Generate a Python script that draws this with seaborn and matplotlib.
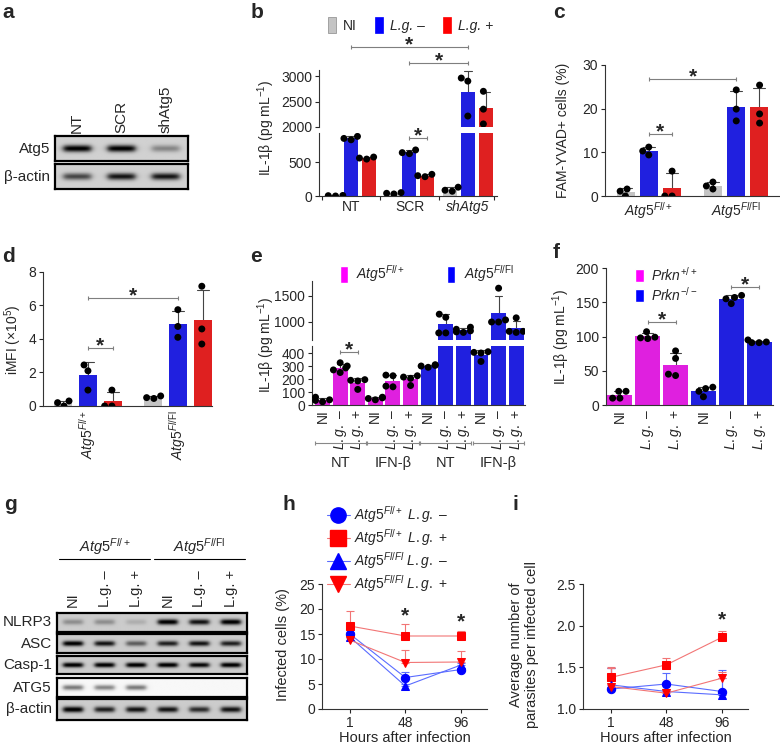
import numpy as np
import pandas as pd
import matplotlib
matplotlib.use("Agg")
import matplotlib.pyplot as plt
import matplotlib.transforms as mtransforms
from matplotlib.patches import Patch
from matplotlib.lines import Line2D
import seaborn as sns

W, H = 780, 749

# ---------------- data ----------------
# a: western blot band intensities (0 = no band)
a_lanes = ["NT", "SCR", "shAtg5"]
a_rows = ["Atg5", "β-actin"]
a_bands = [[0.85, 0.85, 0.30], [0.55, 0.75, 0.75]]

# b: IL-1b (pg/mL), replicates per group
b_groups = ["NT", "SCR", "shAtg5"]
b_conds = ["NI", "L.g. –", "L.g. +"]
b_ni = [[5, 0, 8], [50, 30, 40], [130, 85, 70]]
b_lgm = [[880, 850, 830], [680, 640, 625], [2960, 2900, 2215]]
b_lgp = [[575, 560, 545], [320, 300, 285], [2700, 2350, 2060]]

# c: FAM-YVAD+ cells (%)
c_groups = ["Fl/+", "Fl/Fl"]
c_ni = [[1.6, 0.0, 1.1], [3.2, 1.6, 2.3]]
c_lgm = [[11.2, 9.4, 10.3], [24.3, 19.9, 17.2]]
c_lgp = [[5.7, 0.0, 0.0], [25.4, 18.8, 16.7]]

# d: iMFI (x10^5)
d_ni = [[0.3, 0.0, 0.2], [0.6, 0.45, 0.5]]
d_lgm = [[2.45, 2.1, 0.95], [5.75, 4.75, 4.1]]
d_lgp = [[0.95, 0.0, 0.0], [7.15, 4.6, 3.7]]

# e: IL-1b by genotype / treatment / condition
e_genos = ["Fl/+", "Fl/Fl"]
e_treats = ["NT", "IFN-β"]
e_flp = [[[25, 35, 40, 60], [325, 300, 285, 270, 250], [190, 195, 185, 120]],
         [[40, 50, 55, 60], [230, 225, 140, 145], [225, 215, 150, 205]]]
e_flfl = [[[310, 305, 300, 290], [1150, 1090, 790, 790], [900, 860, 830, 810, 800]],
          [[410, 405, 400, 335], [1650, 1040, 1000, 1000], [1080, 820, 800, 820]]]

# f: IL-1b Prkn
f_genos = ["+/+", "-/-"]
f_wt = [[20, 20, 10, 10], [107, 99, 98, 97], [79, 68, 45, 43]]
f_ko = [[26, 24, 20, 12], [160, 157, 155, 148], [95, 92, 91, 91]]

# g: western blot
g_lanes = ["NI", "L.g. –", "L.g. +", "NI", "L.g. –", "L.g. +"]
g_rows = ["NLRP3", "ASC", "Casp-1", "ATG5", "β-actin"]
g_bands = [[0.25, 0.25, 0.12, 0.85, 0.75, 0.85],
           [0.85, 0.75, 0.45, 0.7, 0.75, 0.7],
           [0.85, 0.85, 0.85, 0.85, 0.8, 0.85],
           [0.5, 0.45, 0.5, 0.0, 0.0, 0.0],
           [0.85, 0.7, 0.75, 0.75, 0.65, 0.75]]

# h / i: time courses (mean, upper error)
hours = ["1", "48", "96"]
h_flp_m = [15.0, 6.3, 7.9]; h_flp_m_err = [0.5, 1.1, 0.4]
h_flp_p = [16.6, 14.6, 14.6]; h_flp_p_err = [3.1, 2.5, 1.1]
h_flfl_m = [14.4, 4.6, 8.8]; h_flfl_m_err = [0.5, 0.5, 0.5]
h_flfl_p = [13.8, 9.3, 9.4]; h_flfl_p_err = [0.5, 2.5, 2.2]
i_flp_m = [1.24, 1.30, 1.21]; i_flp_m_err = [0.25, 0.13, 0.26]
i_flp_p = [1.38, 1.53, 1.86]; i_flp_p_err = [0.12, 0.08, 0.08]
i_flfl_m = [1.29, 1.21, 1.17]; i_flfl_m_err = [0.2, 0.03, 0.2]
i_flfl_p = [1.27, 1.19, 1.37]; i_flfl_p_err = [0.22, 0.03, 0.08]

GRAY, BLUE, RED, MAG = "#c4c4c4", "#0000ff", "#ff0000", "#ff00ff"

sns.set_style("ticks")
plt.rcParams["font.family"] = ["Liberation Sans", "DejaVu Sans"]
plt.rcParams["mathtext.fontset"] = "custom"
plt.rcParams["mathtext.rm"] = "Liberation Sans"
plt.rcParams["mathtext.it"] = "Liberation Sans:italic"
plt.rcParams["mathtext.bf"] = "Liberation Sans:bold"
plt.rcParams["axes.linewidth"] = 0.8
plt.rcParams["axes.edgecolor"] = "#333333"
plt.rcParams["font.size"] = 10

fig = plt.figure(figsize=(W / 100, H / 100), dpi=100)

ATG = {"Fl/+": r"$\mathit{Atg5}^{\mathit{Fl/+}}$", "Fl/Fl": r"$\mathit{Atg5}^{\mathit{Fl/}\mathrm{Fl}}$"}
LG = {"NI": "NI", "L.g. –": r"$\mathit{L.g.}$ –", "L.g. +": r"$\mathit{L.g.}$ +"}


def add_ax(l, t, r, b):
    return fig.add_axes([l / W, 1 - b / H, (r - l) / W, (b - t) / H])


def fy(ypx):
    return 1 - ypx / H


def long_df(groups, conds, series):
    rows = []
    for cond, per_group in zip(conds, series):
        for g, reps in zip(groups, per_group):
            for v in reps:
                rows.append({"group": g, "cond": cond, "value": v})
    return pd.DataFrame(rows)


def bars(ax, df, x, hue, order, hue_order, palette, width, gap=0, dodge=True):
    sns.barplot(data=df, x=x, y="value", hue=hue, order=order, hue_order=hue_order,
                palette=palette, errorbar="sd", capsize=0.4, width=width, gap=gap,
                dodge=dodge, err_kws={"linewidth": 0.8, "color": "#444444"},
                linewidth=0, legend=False, ax=ax)
    for ln in ax.lines:
        ln.set_zorder(0.8)
    sns.swarmplot(data=df, x=x, y="value", hue=hue, order=order, hue_order=hue_order,
                  palette={h: "black" for h in hue_order}, dodge=dodge, size=5,
                  legend=False, ax=ax, zorder=3)
    ax.set_xlabel("")
    ax.set_ylabel("")


def style(ax, bottom=True):
    for s in ["top", "right"]:
        ax.spines[s].set_visible(False)
    ax.tick_params(axis="y", length=3, width=0.8, labelsize=10, pad=2)
    ax.tick_params(axis="x", length=0, labelsize=10, pad=3)
    if not bottom:
        ax.spines["bottom"].set_visible(False)
        ax.set_xticks([])


def star(ax, x, ypx):
    tr = mtransforms.blended_transform_factory(ax.transData, fig.transFigure)
    ax.text(x, fy(ypx), "*", transform=tr, ha="center", va="center",
            fontsize=15, fontweight="bold", clip_on=False)


def bracket(ax, x0, x1, ypx):
    tr = mtransforms.blended_transform_factory(ax.transData, fig.transFigure)
    ax.plot([x0, x1], [fy(ypx), fy(ypx)], transform=tr, color="#7f7f7f", lw=0.8,
            clip_on=False, marker="|", markersize=3, mew=0.8)
    star(ax, (x0 + x1) / 2, ypx - 2)


def blot(ax, bands, bg=0.82):
    n = len(bands)
    X, Y = np.meshgrid(np.linspace(0, n, 300), np.linspace(0, 1, 40))
    img = np.full(X.shape, bg)
    for k, v in enumerate(bands):
        c = k + 0.5
        px = 1 / (1 + np.exp(-(X - (c - 0.31)) / 0.04)) / (1 + np.exp((X - (c + 0.31)) / 0.04))
        py = np.exp(-((Y - 0.5) / 0.14) ** 2)
        img -= v * px * py
    ax.imshow(img, cmap="gray", vmin=0, vmax=1, extent=(0, n, 0, 1), aspect="auto",
              interpolation="bilinear")
    ax.set_xticks([])
    ax.set_yticks([])
    for s in ax.spines.values():
        s.set_visible(True)
        s.set_linewidth(1.6)
        s.set_color("black")


# ---------------- a ----------------
a_tops = [(136, 161), (164, 189)]
for k, (row, (t, b)) in enumerate(zip(a_rows, a_tops)):
    ax = add_ax(55, t, 188, b)
    blot(ax, a_bands[k])
    fig.text(50 / W, fy((t + b) / 2), row, ha="right", va="center", fontsize=11)
    if k == 0:
        for j, lab in enumerate(a_lanes):
            ax.text(j + 0.5, 1.12, lab, transform=mtransforms.blended_transform_factory(ax.transData, ax.transAxes),
                    rotation=90, ha="center", va="bottom", fontsize=11)

# ---------------- b ----------------
b_df = long_df(b_groups, b_conds, [b_ni, b_lgm, b_lgp])
b_pal = dict(zip(b_conds, [GRAY, BLUE, RED]))
b_lo = add_ax(319, 133, 497, 196)
b_hi = add_ax(319, 70, 497, 127)
for ax in (b_lo, b_hi):
    bars(ax, b_df, "group", "cond", b_groups, b_conds, b_pal, 0.92, 0.22)
    ax.set_xlim(-0.55, 2.5)
b_lo.set_ylim(0, 930)
b_hi.set_ylim(2000, 3118)
b_lo.set_yticks([0, 500])
b_hi.set_yticks([2000, 2500, 3000])
style(b_lo)
style(b_hi, bottom=False)
b_lo.set_xticks(range(3))
b_lo.set_xticklabels(b_groups)
b_lo.get_xticklabels()[2].set_fontstyle("italic")
b_lo.set_xticks([-0.5, 0.5, 1.5, 2.45], minor=True)
b_lo.tick_params(axis="x", which="minor", length=3, width=0.8)
bracket(b_lo, 0, 2, 47)
bracket(b_lo, 1, 2, 63)
bracket(b_lo, 0, 0.307, 123)
bracket(b_lo, 1, 1.307, 138)
fig.text(266 / W, fy(128), r"IL-1β (pg mL$^{-1}$)", rotation=90, ha="center", va="center", fontsize=10)
leg = fig.legend([Patch(facecolor=b_pal[c], edgecolor="#888888" if c == "NI" else b_pal[c], lw=0.5) for c in b_conds],
                 b_conds, ncol=3, loc="upper left", bbox_to_anchor=(315 / W, fy(4)), frameon=False,
                 handlelength=0.6, handleheight=1.5, columnspacing=1.3, handletextpad=0.5, fontsize=10)
for t in leg.get_texts()[1:]:
    t.set_fontstyle("italic")

# ---------------- c ----------------
c_df = long_df(c_groups, b_conds, [c_ni, c_lgm, c_lgp])
ax_c = add_ax(605, 65, 780, 196)
bars(ax_c, c_df, "group", "cond", c_groups, b_conds, b_pal, 0.79, 0.22)
ax_c.set_xlim(-0.5, 1.5)
ax_c.set_ylim(0, 30)
ax_c.set_yticks([0, 10, 20, 30])
style(ax_c)
ax_c.set_xticks(range(2))
ax_c.set_xticklabels([ATG[g] for g in c_groups])
bracket(ax_c, 0, 1, 79)
bracket(ax_c, 0, 0.263, 134)
fig.text(563 / W, fy(130), "FAM-YVAD+ cells (%)", rotation=90, ha="center", va="center", fontsize=10)

# ---------------- d ----------------
d_df = long_df(c_groups, b_conds, [d_ni, d_lgm, d_lgp])
ax_d = add_ax(43, 272, 212, 406)
bars(ax_d, d_df, "group", "cond", c_groups, b_conds, b_pal, 0.83, 0.28)
ax_d.set_xlim(-0.5, 1.38)
ax_d.set_ylim(0, 8)
ax_d.set_yticks([0, 2, 4, 6, 8])
style(ax_d)
ax_d.set_xticks(range(2))
ax_d.set_xticklabels([ATG[g] for g in c_groups], rotation=90, va="top", ha="center")
bracket(ax_d, 0, 1, 298)
bracket(ax_d, 0, 0.277, 348)
fig.text(13 / W, fy(340), r"iMFI (×10$^{5}$)", rotation=90, ha="center", va="center", fontsize=10)

# ---------------- e ----------------
e_rows, e_ids, e_labels = [], [], []
for geno, data in zip(e_genos, [e_flp, e_flfl]):
    for treat, per_treat in zip(e_treats, data):
        for cond, reps in zip(b_conds, per_treat):
            cid = f"{geno} {treat} {cond}"
            e_ids.append(cid)
            e_labels.append(LG[cond])
            for v in reps:
                e_rows.append({"cid": cid, "geno": geno, "value": v})
e_df = pd.DataFrame(e_rows)
e_pal = {"Fl/+": MAG, "Fl/Fl": BLUE}
e_lo = add_ax(312, 346, 525, 405)
e_hi = add_ax(312, 281, 525, 340)
for ax in (e_lo, e_hi):
    bars(ax, e_df, "cid", "geno", e_ids, e_genos, e_pal, 0.85, dodge=False)
    ax.set_xlim(-0.6, 11.5)
e_lo.set_ylim(0, 454)
e_hi.set_ylim(654, 1788)
e_lo.set_yticks([0, 100, 200, 300, 400])
e_hi.set_yticks([1000, 1500])
style(e_lo)
style(e_hi, bottom=False)
e_lo.set_xticks(range(len(e_ids)))
e_lo.set_xticklabels(e_labels, rotation=90, va="top", ha="center")
tr_e = mtransforms.blended_transform_factory(e_lo.transData, fig.transFigure)
for k, treat in enumerate(e_treats * 2):
    x0, x1 = 3 * k - 0.45, 3 * k + 2.45
    e_lo.plot([x0, x1], [fy(443)] * 2, transform=tr_e, color="#888888", lw=0.8, clip_on=False,
              marker="|", markersize=3, mew=0.8)
    e_lo.text(3 * k + 1, fy(463), treat, transform=tr_e, ha="center", va="center", fontsize=10.5)
bracket(e_lo, 1, 4, 337)
bracket(e_lo, 1, 2, 352)
fig.text(266 / W, fy(345), r"IL-1β (pg mL$^{-1}$)", rotation=90, ha="center", va="center", fontsize=10)
fig.legend([Patch(facecolor=e_pal[g]) for g in e_genos], [ATG[g] for g in e_genos], ncol=2,
           loc="upper left", bbox_to_anchor=(327 / W, fy(251)), frameon=False, handlelength=0.6,
           handleheight=1.5, columnspacing=3.0, handletextpad=0.6, fontsize=10)

# ---------------- f ----------------
f_rows, f_ids, f_labels = [], [], []
for geno, data in zip(f_genos, [f_wt, f_ko]):
    for cond, reps in zip(b_conds, data):
        cid = f"{geno} {cond}"
        f_ids.append(cid)
        f_labels.append(LG[cond])
        for v in reps:
            f_rows.append({"cid": cid, "geno": geno, "value": v})
f_df = pd.DataFrame(f_rows)
f_pal = {"+/+": MAG, "-/-": BLUE}
ax_f = add_ax(606, 268, 773, 405)
bars(ax_f, f_df, "cid", "geno", f_ids, f_genos, f_pal, 0.9, dodge=False)
ax_f.set_xlim(-0.5, 5.5)
ax_f.set_ylim(0, 200)
ax_f.set_yticks([0, 50, 100, 150, 200])
style(ax_f)
ax_f.set_xticks(range(len(f_ids)))
ax_f.set_xticklabels(f_labels, rotation=90, va="top", ha="center")
bracket(ax_f, 1, 2, 322)
bracket(ax_f, 4, 5, 287)
fig.text(561 / W, fy(337), r"IL-1β (pg mL$^{-1}$)", rotation=90, ha="center", va="center", fontsize=10)
fig.legend([Patch(facecolor=f_pal[g]) for g in f_genos],
           [r"$\mathit{Prkn}^{+/+}$", r"$\mathit{Prkn}^{-/-}$"], loc="upper left",
           bbox_to_anchor=(622 / W, fy(253)), frameon=False, handlelength=0.7, handleheight=1.0,
           labelspacing=0.15, handletextpad=0.5, fontsize=10)

# ---------------- g ----------------
g_tops = [(613, 632), (634, 653), (656, 674), (678, 697), (699, 720)]
for k, (row, (t, b)) in enumerate(zip(g_rows, g_tops)):
    ax = add_ax(57, t, 247, b)
    blot(ax, g_bands[k], bg=0.97 if row == "ATG5" else 0.8)
    fig.text(52 / W, fy((t + b) / 2), row, ha="right", va="center", fontsize=11)
    if k == 0:
        trg = mtransforms.blended_transform_factory(ax.transData, fig.transFigure)
        for j, lab in enumerate(g_lanes):
            ax.text(j + 0.5, fy(607), lab, transform=trg, rotation=90, ha="center", va="bottom", fontsize=10.5)
        for j, geno in enumerate(e_genos):
            ax.plot([3 * j + 0.05, 3 * j + 2.95], [fy(559)] * 2, transform=trg, color="black",
                    lw=0.8, clip_on=False)
            ax.text(3 * j + 1.5, fy(547), ATG[geno], transform=trg, ha="center", va="center", fontsize=10.5)

# ---------------- h / i ----------------
series_style = [
    (r"$\mathit{Atg5}^{\mathit{Fl/+}}$ $\mathit{L.g.}$ –", "o", BLUE, "#5a6cff"),
    (r"$\mathit{Atg5}^{\mathit{Fl/+}}$ $\mathit{L.g.}$ +", "s", RED, "#f27575"),
    (r"$\mathit{Atg5}^{\mathit{Fl/Fl}}$ $\mathit{L.g.}$ –", "^", BLUE, "#5a6cff"),
    (r"$\mathit{Atg5}^{\mathit{Fl/Fl}}$ $\mathit{L.g.}$ +", "v", RED, "#f27575"),
]
h_data = [(h_flp_m, h_flp_m_err), (h_flp_p, h_flp_p_err), (h_flfl_m, h_flfl_m_err), (h_flfl_p, h_flfl_p_err)]
i_data = [(i_flp_m, i_flp_m_err), (i_flp_p, i_flp_p_err), (i_flfl_m, i_flfl_m_err), (i_flfl_p, i_flfl_p_err)]
pos = np.arange(len(hours))


def time_panel(ax, data):
    for (lab, m, c, lc), (vals, err) in zip(series_style, data):
        ax.errorbar(pos, vals, yerr=[np.zeros(len(err)), err], fmt="none", ecolor=lc,
                    elinewidth=0.8, capsize=3, capthick=0.8, zorder=1)
        sns.lineplot(x=pos, y=vals, color=lc, lw=0.8, marker=m, markersize=6,
                     markerfacecolor=c, markeredgecolor=c, ax=ax, zorder=2)
    ax.set_xlim(-0.5, 2.47)
    ax.set_xticks(pos)
    ax.set_xticklabels(hours)
    style(ax)
    ax.tick_params(axis="x", length=3, width=0.8, pad=2)
    ax.set_xlabel("Hours after infection", fontsize=10.5, labelpad=1)


ax_h = add_ax(322, 584, 487, 709)
time_panel(ax_h, h_data)
ax_h.set_ylim(0, 25)
ax_h.set_yticks([0, 5, 10, 15, 20, 25])
star(ax_h, 1, 616)
star(ax_h, 2, 622)
fig.text(283 / W, fy(645), "Infected cells (%)", rotation=90, ha="center", va="center", fontsize=10.5)
fig.legend([Line2D([0], [0], color=lc, lw=0.8, marker=m, markersize=11, mfc=c, mec=c)
            for lab, m, c, lc in series_style], [s[0] for s in series_style],
           loc="upper left", bbox_to_anchor=(314 / W, fy(492)), frameon=False, handlelength=1.7,
           labelspacing=0.15, handletextpad=0.3, fontsize=10)

ax_i = add_ax(583, 584, 748, 709)
time_panel(ax_i, i_data)
ax_i.set_ylim(1.0, 2.5)
ax_i.set_yticks([1.0, 1.5, 2.0, 2.5])
ax_i.set_yticklabels(["1.0", "1.5", "2.0", "2.5"])
star(ax_i, 2, 620)
fig.text(524 / W, fy(645), "Average number of\nparasites per infected cell", rotation=90,
         ha="center", va="center", fontsize=10.5, linespacing=1.15)

# ---------------- panel letters ----------------
for lab, x, y in [("a", 2, 12), ("b", 251, 12), ("c", 553, 12), ("d", 2, 256), ("e", 250, 256),
                  ("f", 553, 252), ("g", 4, 505), ("h", 282, 505), ("i", 513, 505)]:
    fig.text(x / W, fy(y), lab, fontsize=15, fontweight="bold", ha="left", va="center")

fig.savefig("out.png", dpi=100)
